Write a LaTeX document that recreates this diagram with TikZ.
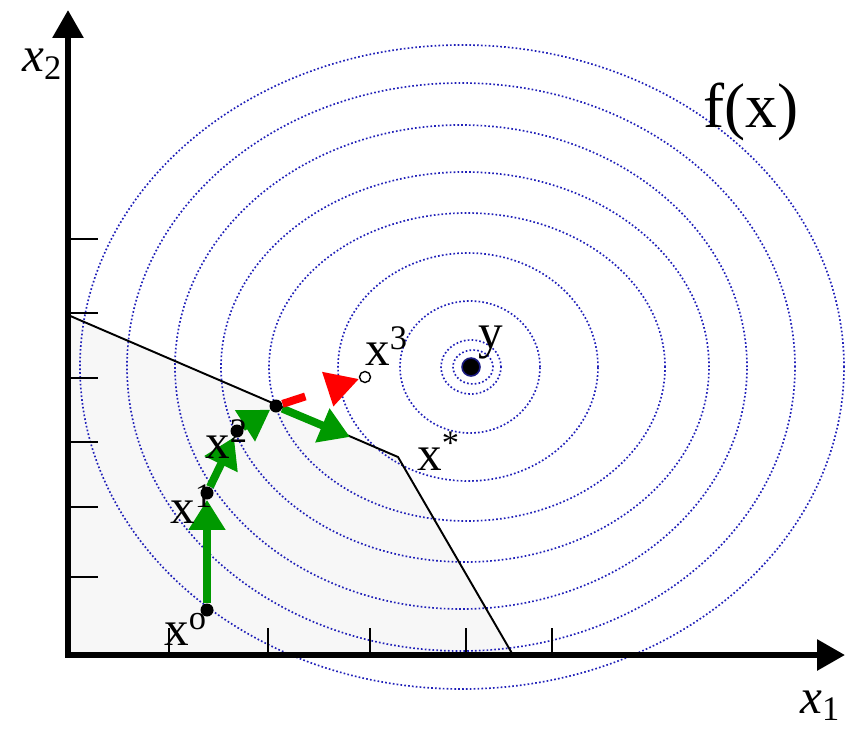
\documentclass[tikz,border=0pt]{standalone}
\usepackage{fontspec}
\setmainfont{Liberation Serif}
\usetikzlibrary{arrows.meta,backgrounds}
\definecolor{contourBlue}{HTML}{2020B8}
\definecolor{stepGreen}{HTML}{009900}
\definecolor{projRed}{HTML}{FF0000}
\definecolor{feasGray}{HTML}{F7F7F7}
\definecolor{yEdge}{HTML}{1A1A80}
\tikzset{
  contour/.style={contourBlue,line width=0.95pt,dash pattern=on 0.95pt off 1.25pt},
  axisline/.style={line width=3.4pt,
    {Triangle[length=0.56cm,width=0.6cm]}-{Triangle[length=0.56cm,width=0.6cm]}},
  tickmark/.style={line width=1.1pt},
  dot/.style={circle,fill=black,inner sep=0pt,minimum size=0.26cm},
  ydot/.style={circle,fill=black,draw=yEdge,line width=0.9pt,inner sep=0pt,minimum size=0.36cm},
  opendot/.style={circle,draw=black,fill=white,line width=0.8pt,inner sep=0pt,minimum size=0.22cm},
  lbl/.style={inner sep=0pt,anchor=base west,font=\fontsize{28}{30}\selectfont},
  gstep/.style={stepGreen,line width=4.5pt,-{Triangle[length=0.6cm,width=0.7cm]}},
  rstep/.style={projRed,line width=4.5pt,dash pattern=on 0.48cm off 3cm,
    -{Triangle[length=0.66cm,width=0.68cm]}},
}

\begin{document}
\begin{tikzpicture}[x=0.02cm,y=0.02cm]
\useasboundingbox (0,0) rectangle (854,728);

\coordinate (O) at (68,73);
\coordinate (x1end) at (845,73);
\coordinate (x2end) at (68,718);
\coordinate (corner) at (398,271);

\begin{scope}[on background layer]
% Feasible set, lightly shaded.
\fill[feasGray] (O) -- (68,413) -- (corner) -- (513,73) -- cycle;

% Level sets of f around the unconstrained minimiser y.
\foreach \cx/\rx/\ry in {462/382/322,461/334/284,461/286/242,465/244/195,
    467/198/154,468/130/114,470/70/66,471/30/27,473/20/17} {
  \draw[contour] (\cx,361) ellipse [x radius=\rx, y radius=\ry];
}

% Constraint boundary.
\draw[line width=1.1pt] (68,413) -- (corner) -- (513,73);

% Axes and ticks.
\draw[axisline] (x2end) -- (O) -- (x1end);
\foreach \ty in {489,415,350,286,221,151} {
  \draw[tickmark] (68,\ty) -- (98,\ty);
}
\foreach \tx in {169,268,370,466,552} {
  \draw[tickmark] (\tx,73) -- (\tx,100);
}
\end{scope}

% Labels.
\node[lbl] (lax2) at (22,656) {\textit{x}\textsubscript{2}};
\node[lbl] (lax1) at (800,15) {\textit{x}\textsubscript{1}};
\node[lbl,font=\fontsize{36}{40}\selectfont] (lf) at (703,601) {f(x)};
\node[lbl] (lx0) at (164,83) {x\textsuperscript{o}};
\node[lbl] (lx1) at (170,205) {x\textsuperscript{1}};
\node[lbl] (lx2) at (205,270) {x\textsuperscript{2}};
\node[lbl] (lx3) at (365,363) {x\textsuperscript{3}};
\node[lbl] (lxs) at (417,258) {x\textsuperscript{*}};
\node[lbl] (ly) at (478,380) {y};

% Iterates.
\node[dot] (x0) at (207,118) {};
\node[dot] (x1) at (207,235) {};
\node[dot] (x2) at (237,297) {};
\node[dot] (xc) at (276,322) {};
\node[opendot] (x3) at (365,351) {};
\node[ydot] (y) at (471,361) {};
\coordinate (gEnd) at (350,291);

% Steps: green are taken, red is the projected-away one.
\begin{scope}[on background layer]
\draw[gstep] (x0) -- (x1);
\draw[gstep] (x1) -- (x2);
\draw[gstep] (x2) -- (xc);
\draw[gstep] (xc) -- (gEnd);
\draw[rstep] (xc) -- (x3);
\end{scope}

\end{tikzpicture}
\end{document}
